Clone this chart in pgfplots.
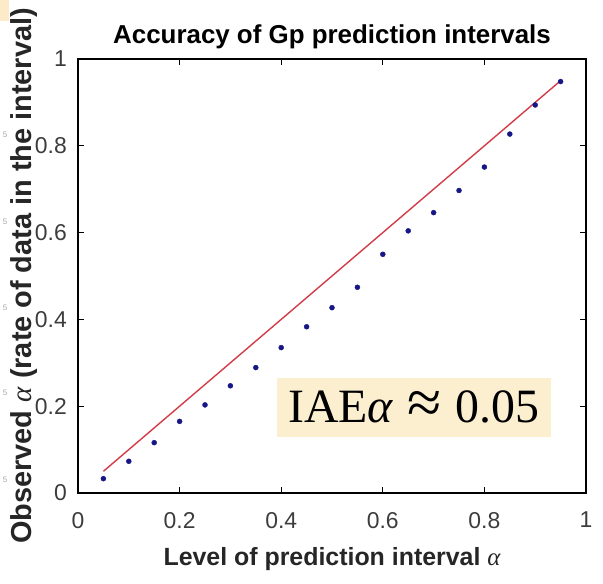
\documentclass[border=0pt]{standalone}
\usepackage{fontspec}
\setmainfont{Liberation Sans}
\newfontfamily\notefont{Liberation Serif}
\usepackage{graphicx}
\usepackage{pgfplots}
\pgfplotsset{compat=1.18}

\definecolor{tickgray}{RGB}{60,60,60}
\definecolor{labelgray}{RGB}{38,38,38}
\definecolor{dotblue}{RGB}{22,22,135}
\definecolor{linered}{RGB}{210,60,72}
\definecolor{notebg}{RGB}{252,239,208}
\definecolor{cornerbg}{RGB}{253,234,200}

% observed coverage of the prediction intervals
\pgfplotstableread{
level observed
0.05 0.033
0.10 0.073
0.15 0.116
0.20 0.165
0.25 0.203
0.30 0.247
0.35 0.289
0.40 0.335
0.45 0.383
0.50 0.427
0.55 0.474
0.60 0.550
0.65 0.604
0.70 0.646
0.75 0.697
0.80 0.751
0.85 0.827
0.90 0.894
0.95 0.948
}\coverage

\newcommand{\galpha}{{\notefont\itshape\mdseries α}}

\begin{document}
\begin{tikzpicture}[x=1bp,y=1bp]
\path[use as bounding box] (0,0) rectangle (603,584);
\fill[cornerbg] (0,584) rectangle (9,563);
\foreach \yy in {449,362,276,191,104} {
  \node[text=gray!70, font=\fontsize{8}{8}\selectfont, inner sep=0pt] at (5,\yy) {5};
}
\begin{axis}[
  at={(78bp,91bp)}, anchor=south west,
  scale only axis, width=508bp, height=434bp,
  xmin=0, xmax=1, ymin=0, ymax=1,
  xtick={0,0.2,0.4,0.6,0.8,1},
  ytick={0,0.2,0.4,0.6,0.8,1},
  tick align=inside,
  major tick length=6bp,
  tick style={black, line width=0.8bp},
  axis line style={black, line width=1.3bp},
  /pgf/number format/assume math mode=true,
  tick label style={font=\fontsize{23}{23}\selectfont, text=tickgray, inner sep=0pt},
  xticklabel style={anchor=north, yshift=-19bp},
  yticklabel style={anchor=east, xshift=-11bp},
  title={\textbf{Accuracy of Gp prediction intervals}},
  title style={font=\fontsize{26}{26}\selectfont, text=black, inner sep=0pt,
    anchor=base, at={(axis description cs:0.5,1.022)}},
  xlabel={\textbf{Level of prediction interval} \galpha},
  xlabel style={font=\fontsize{25}{25}\selectfont, text=labelgray, inner sep=0pt,
    anchor=base, at={(axis description cs:0.5,-0.166)}},
  ylabel={\textbf{Observed} \galpha\ \textbf{(rate of data in the interval)}},
  ylabel style={font=\fontsize{29}{29}\selectfont, text=labelgray, inner sep=0pt,
    rotate=0, anchor=base, at={(axis description cs:-0.0906,0.5)}},
  clip=false,
]
% ideal calibration line
\addplot[linered, line width=1.4bp] coordinates {(0.05,0.05) (0.95,0.95)};
% observed rates
\addplot[only marks, mark=*, mark size=2.5bp, dotblue] table[x=level, y=observed] {\coverage};
\node[fill=notebg, minimum width=274bp, minimum height=59bp, inner sep=0pt,
  font=\notefont\fontsize{48}{48}\selectfont]
  at (axis description cs:0.661,0.197)
  {IAE{\itshape α}\hspace{0.3em}\raisebox{-0.02em}{\scalebox{1.3}{≈}}\hspace{0.3em}0.05};
\end{axis}
\end{tikzpicture}
\end{document}
